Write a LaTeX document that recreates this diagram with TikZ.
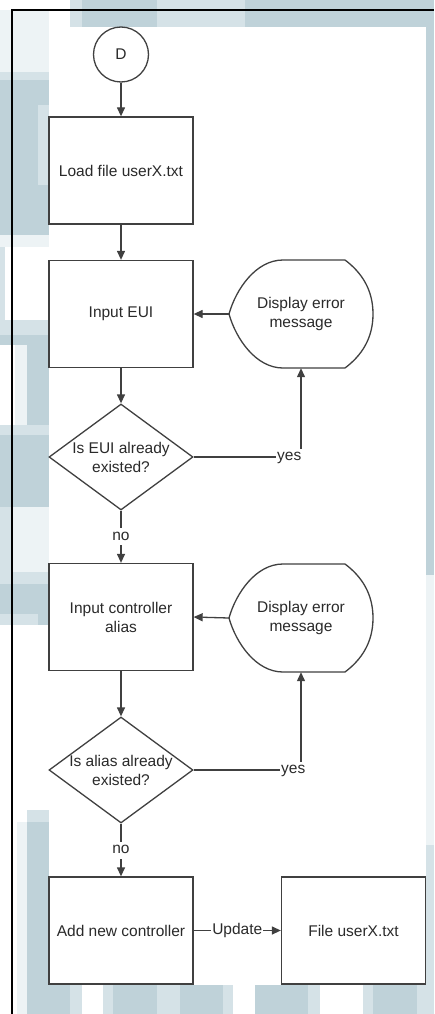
\documentclass[tikz,border=0pt]{standalone}
\usepackage{fontspec}
\setmainfont{Liberation Sans}
\usetikzlibrary{arrows.meta,shapes.geometric}

\definecolor{wm}{HTML}{BFD2D9}
\definecolor{wmlight}{HTML}{D5E2E7}
\definecolor{wmpale}{HTML}{EDF3F5}
\definecolor{ink}{HTML}{2A2A2A}
\definecolor{edge}{HTML}{404040}

\begin{document}
\begin{tikzpicture}[x=1pt,y=-1pt,
  every node/.style={font=\fontsize{15.5}{19}\selectfont, text=ink},
  procbox/.style={draw=edge, line width=1.3pt, fill=white, minimum width=144pt,
    minimum height=107pt, inner sep=0pt, align=center},
  decbox/.style={diamond, draw=edge, line width=1.3pt, fill=white, minimum width=144pt,
    minimum height=106pt, inner sep=0pt},
  dispbox/.style={minimum width=144pt, minimum height=108pt, inner sep=0pt, align=center},
  displine/.style={draw=edge, line width=1.3pt, fill=white},
  termcirc/.style={circle, draw=edge, line width=1.3pt, fill=white, minimum size=55pt,
    inner sep=0pt},
  flowline/.style={draw=edge, line width=1.3pt, -{Triangle[length=9pt,width=8pt]}},
  lbl/.style={fill=white, inner xsep=1pt, inner ysep=2pt, text height=10pt, text depth=3pt},
  txt/.style={align=center, inner sep=0pt}
]
\useasboundingbox (0,0) rectangle (434,1014);

% ---- patterned backdrop ----
\fill[white] (0,0) rectangle (434,1014);
% left strip
\fill[wmpale] (0,10) rectangle (49,72);
\fill[wmlight] (0,72) rectangle (49,80);
\fill[wm] (0,80) rectangle (49,235);
\fill[wmlight] (38,105) rectangle (49,185);
\fill[wmpale] (0,235) rectangle (49,247);
\fill[wmlight] (0,247) rectangle (5,320);
\fill[wmlight] (0,320) rectangle (49,335);
\fill[wm] (0,335) rectangle (49,345);
\fill[wmpale] (15,345) rectangle (27,425);
\fill[wm] (27,345) rectangle (49,425);
\fill[wmlight] (0,425) rectangle (49,435);
\fill[wm] (0,435) rectangle (49,507);
\fill[wmlight] (0,507) rectangle (12,572);
\fill[wmpale] (12,507) rectangle (49,572);
\fill[wmlight] (0,572) rectangle (49,584);
\fill[wm] (0,584) rectangle (49,614);
\fill[wmlight] (0,614) rectangle (38,625);
\fill[wm] (38,614) rectangle (49,625);
\fill[wmlight] (27,810) rectangle (49,822);
\fill[wmpale] (17,822) rectangle (27,1014);
\fill[wm] (27,822) rectangle (49,1014);
% top band
\fill[wmlight] (70,0) rectangle (82,27);
\fill[wm] (82,0) rectangle (157,27);
\fill[wmlight] (157,0) rectangle (245,27);
\fill[wm] (245,0) rectangle (434,27);
% right strip
\fill[wm] (426,0) rectangle (434,575);
\fill[wmpale] (426,575) rectangle (434,845);
\fill[wmlight] (426,845) rectangle (434,1014);
% bottom band
\fill[wm] (49,985) rectangle (70,1014);
\fill[wmlight] (70,985) rectangle (82,1014);
\fill[wmlight] (103,985) rectangle (113,1014);
\fill[wm] (113,985) rectangle (157,1014);
\fill[wmlight] (157,985) rectangle (180,1014);
\fill[wm] (180,985) rectangle (223,1014);
\fill[wmlight] (223,985) rectangle (233,1014);
\fill[wm] (255,985) rectangle (308,1014);
\fill[wmlight] (308,985) rectangle (320,1014);
\fill[wmlight] (363,985) rectangle (373,1014);
\fill[wm] (373,985) rectangle (417,1014);
\fill[wmlight] (417,985) rectangle (428,1014);
% drawing sheet
\fill[white] (49,27) rectangle (426,985);
% frame
\draw[black, line width=2pt] (12,1014) -- (12,10) -- (434,10);

% ---- flowchart nodes ----
\node[termcirc] (start) at (121,54.5) {D};
\node[procbox] (load) at (121,170.5) {Load file userX.txt};
\node[procbox] (eui) at (121,314) {Input EUI};
\node[decbox] (qeui) at (121,457) {};
\node[txt] (qeuit) at (qeui.center) {Is EUI already\\existed?};

\node[dispbox] (err1) at (301,314) {};
\draw[displine, shift={(err1.center)}] (-72,0) .. controls (-65,-25) and (-45,-54) .. (-18,-54)
  -- (44,-54) .. controls (60,-42) and (72,-25) .. (72,0)
  .. controls (72,25) and (60,42) .. (44,54) -- (-18,54)
  .. controls (-45,54) and (-65,25) .. cycle;
\node[txt] (err1t) at (err1.center) {Display error\\message};

\node[procbox] (alias) at (121,617) {Input controller\\alias};
\node[decbox] (qalias) at (121,770) {};
\node[txt] (qaliast) at (qalias.center) {Is alias already\\existed?};

\node[dispbox] (err2) at (301,618) {};
\draw[displine, shift={(err2.center)}] (-72,0) .. controls (-65,-25) and (-45,-54) .. (-18,-54)
  -- (44,-54) .. controls (60,-42) and (72,-25) .. (72,0)
  .. controls (72,25) and (60,42) .. (44,54) -- (-18,54)
  .. controls (-45,54) and (-65,25) .. cycle;
\node[txt] (err2t) at (err2.center) {Display error\\message};

\node[procbox] (add) at (121,930.5) {Add new controller};
\node[procbox] (file) at (353.5,930.5) {File userX.txt};

% ---- connectors ----
\draw[flowline] (start) -- (load);
\draw[flowline] (load) -- (eui);
\draw[flowline] (eui) -- (qeui);
\draw[flowline] (qeui.east) -| node[lbl, pos=0.5, anchor=east, xshift=2pt] {yes} (err1.south);
\draw[flowline] (err1.west) -- (eui.east);
\draw[flowline] (qeui.south) -- node[lbl] {no} (alias.north);
\draw[flowline] (err2.west) -- (alias.east);
\draw[flowline] (alias) -- (qalias);
\draw[flowline] (qalias.east) -| node[lbl, pos=0.5, anchor=east, xshift=6pt] {yes} (err2.south);
\draw[flowline] (qalias.south) -- node[lbl] {no} (add.north);
\draw[flowline] (add.east) -- node[lbl] {Update} (file.west);
\end{tikzpicture}
\end{document}
